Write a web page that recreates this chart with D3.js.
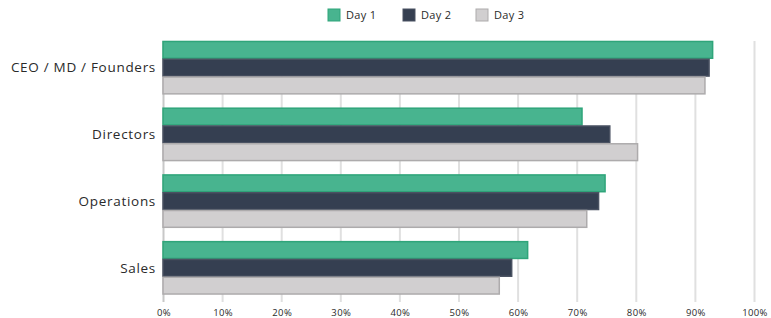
<!DOCTYPE html>
<html>
<head>
<meta charset="utf-8">
<script src="https://cdn.jsdelivr.net/npm/d3@7"></script>
<style>
  body { margin: 0; background: #fff; }
  text { font-family: "Open Sans", sans-serif; fill: #2a2a2a; }
</style>
</head>
<body>
<svg id="chart" width="771" height="318"></svg>
<script>
'use strict';

// Data
const categories = ['CEO / MD / Founders', 'Directors', 'Operations', 'Sales'];
const seriesNames = ['Day 1', 'Day 2', 'Day 3'];
const day1 = [93.0, 70.9, 74.8, 61.7];
const day2 = [92.4, 75.6, 73.7, 59.0];
const day3 = [91.7, 80.3, 71.7, 56.9];
const tickValues = [0, 10, 20, 30, 40, 50, 60, 70, 80, 90, 100];

const fills   = ['#48b48f', '#353f51', '#d1cfd0'],
      strokes = ['#2fa57a', '#4a5262', '#adabac'];

const series = [day1, day2, day3];

const svg = d3.select('#chart');

const plotLeft = 163, plotRight = 754,
      plotTop = 41, plotBottom = 302;

const x = d3.scaleLinear().domain([0, 100]).range([plotLeft, plotRight]);
const y = d3.scaleBand().domain(categories)
      .range([34.3, 301.2]).paddingInner(0.2).paddingOuter(0.1);
const ySub = d3.scaleBand().domain(seriesNames).range([0, y.bandwidth()]);

// grid lines
svg.append('g')
    .selectAll('line')
    .data(tickValues)
    .enter()
    .append('line')
    .attr('x1', d => x(d) + 0.5)
    .attr('x2', d => x(d) + 0.5)
    .attr('y1', plotTop)
    .attr('y2', plotBottom)
    .style('stroke', d => d === 0 ? '#c8c8c8' : '#e0e0e0')
    .style('stroke-width', 2);

// bars
const groups = svg.append('g')
    .selectAll('g')
    .data(categories)
    .enter()
    .append('g')
    .attr('transform', d => `translate(0,${y(d)})`);

groups.selectAll('rect')
    .data((c, i) => series.map((s, k) => ({name: seriesNames[k], k: k, v: s[i]})))
    .enter()
    .append('rect')
    .attr('x', x(0))
    .attr('y', d => ySub(d.name) + 0.5)
    .attr('width', d => x(d.v) - x(0))
    .attr('height', ySub.bandwidth() - 1)
    .style('fill', d => fills[d.k])
    .style('stroke', d => strokes[d.k])
    .style('stroke-width', 1.5);

// category labels
svg.append('g')
    .selectAll('text')
    .data(categories)
    .enter()
    .append('text')
    .attr('x', 156)
    .attr('y', d => y(d) + y.bandwidth() / 2)
    .attr('dy', '0.35em')
    .attr('text-anchor', 'end')
    .style('font-size', '13.5px')
    .style('letter-spacing', '0.7px')
    .text(d => d);

// x tick labels
svg.append('g')
    .selectAll('text')
    .data(tickValues)
    .enter()
    .append('text')
    .attr('x', d => x(d) + 1)
    .attr('y', 316)
    .attr('text-anchor', 'middle')
    .style('font-size', '9.5px')
    .style('letter-spacing', '0.4px')
    .text(d => d + '%');

// legend
const legendX = [328, 403, 476];
const legend = svg.append('g')
    .selectAll('g')
    .data(seriesNames)
    .enter()
    .append('g')
    .attr('transform', (d, i) => `translate(${legendX[i]},9)`);

legend.append('rect')
    .attr('width', 12)
    .attr('height', 12)
    .style('fill', (d, i) => fills[i])
    .style('stroke', (d, i) => strokes[i]);

legend.append('text')
    .attr('x', 18)
    .attr('y', 6)
    .attr('dy', '0.35em')
    .style('font-size', '11px')
    .style('letter-spacing', '0.3px')
    .text(d => d);
</script>
</body>
</html>
